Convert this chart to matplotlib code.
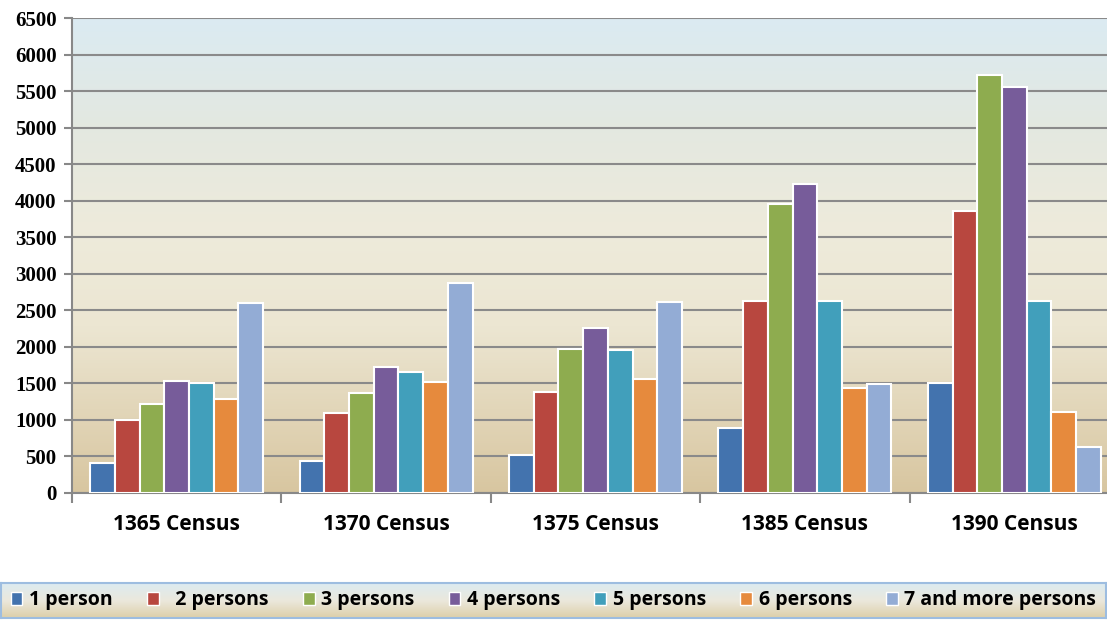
import numpy as np
import matplotlib
matplotlib.use("Agg")
import matplotlib.pyplot as plt
from matplotlib.colors import LinearSegmentedColormap
import matplotlib.patches as mpatches

# data
censuses = ["1365 Census", "1370 Census", "1375 Census", "1385 Census", "1390 Census"]
series_names = ["1 person", "  2 persons", "3 persons", "4 persons",
                "5 persons", "6 persons", "7 and more persons"]
one_person = [410, 438, 520, 889, 1505]
two_persons = [1000, 1094, 1382, 2627, 3858]
three_persons = [1218, 1368, 1970, 3953, 5725]
four_persons = [1532, 1724, 2260, 4227, 5560]
five_persons = [1505, 1655, 1960, 2627, 2627]
six_persons = [1286, 1518, 1560, 1436, 1108]
seven_plus = [2600, 2873, 2620, 1491, 635]
y_ticks = list(range(0, 6501, 500))

series = [one_person, two_persons, three_persons, four_persons,
          five_persons, six_persons, seven_plus]
colors = ["#4373ae", "#b8473f", "#8eac4f", "#775c9a", "#419fbb", "#e68a3d", "#93acd5"]

bg = LinearSegmentedColormap.from_list(
    "bg", [(0.0, "#d8c6a0"), (0.35, "#ece6d2"), (0.55, "#eeebdb"),
           (0.78, "#e3e8e1"), (1.0, "#dbebf2")])

fig = plt.figure(figsize=(11.07, 6.2), dpi=100)
# the plot area runs a little past the right edge of the picture
ax = fig.add_axes([72 / 1107, 127 / 620, 1047 / 1107, 475 / 620])

grad = np.linspace(0, 1, 256).reshape(-1, 1)
ax.imshow(grad, cmap=bg, origin="lower", aspect="auto",
          extent=[-0.5, 4.5, 0, 6500], zorder=0)

x = np.arange(len(censuses))
width = 0.118
for i, (vals, c, name) in enumerate(zip(series, colors, series_names)):
    ax.bar(x + (i - 3) * width, vals, width, color=c, edgecolor="white",
           linewidth=1.5, zorder=3, label=name)

ax.set_xlim(-0.5, 4.5)
ax.set_ylim(0, 6500)
ax.set_yticks(y_ticks)
ax.set_yticklabels([str(v) for v in y_ticks])
for lbl in ax.get_yticklabels():
    lbl.set_fontfamily(["Liberation Serif", "DejaVu Serif"])
    lbl.set_fontweight("bold")
    lbl.set_fontsize(15)
ax.yaxis.grid(True, color="#8a8a8a", linewidth=1.5, zorder=1)
ax.set_axisbelow(True)

ax.set_xticks(x)
ax.set_xticklabels(censuses)
for lbl in ax.get_xticklabels():
    lbl.set_fontfamily(["Open Sans", "DejaVu Sans"])
    lbl.set_fontweight("bold")
    lbl.set_fontsize(15)
ax.tick_params(axis="x", length=0, pad=15)
ax.set_xticks(np.arange(-0.5, 4.6, 1), minor=True)
ax.tick_params(axis="x", which="minor", length=7, color="#888888", width=1.5)
ax.tick_params(axis="y", length=6, color="#888888", width=1.5, pad=5)

for s in ["top", "right"]:
    ax.spines[s].set_visible(False)
for s in ["left", "bottom"]:
    ax.spines[s].set_color("#888888")
    ax.spines[s].set_linewidth(1.5)

# legend strip at the bottom
lax = fig.add_axes([1 / 1107, 2 / 620, 1105 / 1107, 35 / 620])
lgrad = LinearSegmentedColormap.from_list("lg", [(0, "#ddcfa8"), (0.5, "#ebe8dc"), (1, "#dcebf1")])
lax.imshow(grad, cmap=lgrad, origin="lower", aspect="auto", extent=[0, 1, 0, 1])
lax.set_xticks([])
lax.set_yticks([])
for s in lax.spines.values():
    s.set_color("#9dbde0")
    s.set_linewidth(1.5)

handles = [mpatches.Patch(facecolor=c, edgecolor="white", linewidth=1) for c in colors]
lax.legend(handles, series_names, ncol=7, loc="center", frameon=False,
           handlelength=0.6, handleheight=0.6, handletextpad=0.35, columnspacing=1.75,
           prop={"family": "Open Sans", "weight": "bold", "size": 14})

fig.savefig("out.png", dpi=100)
